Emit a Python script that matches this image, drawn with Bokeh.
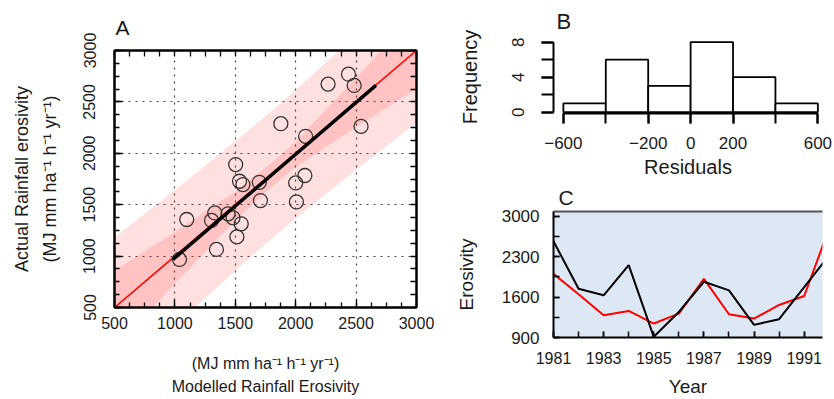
import numpy as np
from bokeh.plotting import figure
from bokeh.layouts import row, column
from bokeh.models import LinearAxis, FixedTicker, Range1d, Title
from bokeh.embed import file_html
from bokeh.resources import INLINE

FONT = "Liberation Sans"
TXT = "#1a1a1a"

# ---------------- Panel A data ----------------
modelled = [1038, 1098, 1344, 1330, 1303, 1440, 1481, 1549, 1513, 1503, 1535, 1563,
            1699, 1708, 1877, 2000, 2076, 2006, 2082, 2268, 2437, 2484, 2541]
actual = [968, 1356, 1065, 1420, 1347, 1411, 1372, 1314, 1187, 1890, 1728, 1696,
          1718, 1540, 2288, 1712, 1784, 1527, 2165, 2673, 2770, 2660, 2262]
fit_x = [984, 2664]
fit_y = [968, 2660]
one_to_one = [500, 3000]
band_x = [500, 1000, 1500, 1800, 2000, 2500, 3000]
conf_lower = [101, 734, 1348, 1675, 1866, 2255, 2628]
conf_upper = [861, 1234, 1628, 1905, 2116, 2735, 3368]
pred_lower = [-219, 324, 858, 1170, 1366, 1840, 2298]
pred_upper = [1181, 1644, 2118, 2410, 2616, 3150, 3698]
a_ticks = [500, 1000, 1500, 2000, 2500, 3000]
a_grid = [1000, 1500, 2000, 2500]

# ---------------- Panel B data ----------------
bin_edges = [-600, -400, -200, 0, 200, 400, 600]
frequency = [1, 6, 3, 8, 4, 1]
resid_labels = [-600, -200, 0, 200, 600]
freq_labels = [0, 4, 8]
freq_ticks = [0, 2, 4, 6, 8]

# ---------------- Panel C data ----------------
years = [1981, 1982, 1983, 1984, 1985, 1986, 1987, 1988, 1989, 1990, 1991, 1992]
modelled_series = [2005, 1649, 1287, 1361, 1142, 1314, 1918, 1304, 1228, 1464, 1620, 2800]
actual_series = [2569, 1746, 1632, 2155, 912, 1343, 1867, 1718, 1119, 1217, 1775, 2330]
c_yticks = [900, 1600, 2300, 3000]
c_yminor = [900, 1250, 1600, 1950, 2300, 2650, 3000]

SUP = "(MJ mm ha\u207b\u00b9 h\u207b\u00b9 yr\u207b\u00b9)"


def style_axis(ax, size, title_size=None):
    ax.major_label_text_font = FONT
    ax.major_label_text_font_size = size
    ax.major_label_text_color = TXT
    ax.axis_label_text_font = FONT
    ax.axis_label_text_font_style = "normal"
    ax.axis_label_text_color = TXT
    if title_size:
        ax.axis_label_text_font_size = title_size


def add_title(p, text, size, offset, standoff):
    p.add_layout(Title(text=text, align="left", offset=offset, standoff=standoff,
                       text_font=FONT, text_font_size=size, text_font_style="normal",
                       text_color=TXT), "above")


# ================= Panel A =================
pA = figure(width=450, height=399, output_backend="svg", toolbar_location=None,
            x_range=Range1d(500, 3000), y_range=Range1d(500, 3000),
            min_border_left=114, min_border_right=34, min_border_top=50, min_border_bottom=92)
pA.outline_line_color = "black"
pA.outline_line_width = 2

pA.varea(x=band_x, y1=pred_lower, y2=pred_upper, fill_color="red", fill_alpha=0.12)
pA.varea(x=band_x, y1=conf_lower, y2=conf_upper, fill_color="red", fill_alpha=0.13)
pA.line(one_to_one, one_to_one, line_color="red", line_width=1.6)
pA.scatter(modelled, actual, marker="circle", size=14, fill_color=None,
           line_color="#333333", line_width=1.3)
pA.line(fit_x, fit_y, line_color="black", line_width=3.5)

minor_a = list(np.arange(500, 3001, 125))
for ax in (pA.xaxis[0], pA.yaxis[0]):
    ax.ticker = FixedTicker(ticks=a_ticks, minor_ticks=minor_a)
    ax.major_tick_in = 8
    ax.major_tick_out = 0
    ax.minor_tick_in = 5
    ax.minor_tick_out = 0
    ax.major_tick_line_color = "black"
    ax.minor_tick_line_color = "black"
    ax.major_tick_line_width = 1.3
    ax.minor_tick_line_width = 1.3
    ax.axis_line_color = "black"
    ax.axis_line_width = 2
style_axis(pA.xaxis[0], "16px", "16px")
style_axis(pA.yaxis[0], "16px", "18px")
pA.xaxis.major_label_standoff = 9
pA.yaxis.major_label_standoff = 19
pA.yaxis.major_label_orientation = "vertical"
pA.xaxis.axis_label = SUP + "\nModelled Rainfall Erosivity"
pA.xaxis.axis_label_text_line_height = 1.375
pA.xaxis.axis_label_standoff = 23
pA.yaxis.axis_label = "Actual Rainfall erosivity\n" + SUP
pA.yaxis.axis_label_text_line_height = 1.39
pA.yaxis.axis_label_standoff = 21

for loc in ("above", "right"):
    ax = LinearAxis(ticker=FixedTicker(ticks=[], minor_ticks=minor_a),
                    minor_tick_in=6, minor_tick_out=0, minor_tick_line_width=1.3,
                    minor_tick_line_color="black", axis_line_width=2)
    pA.add_layout(ax, loc)

pA.xgrid.ticker = FixedTicker(ticks=a_grid)
pA.ygrid.ticker = FixedTicker(ticks=a_grid)
pA.grid.grid_line_color = "#444444"
pA.grid.grid_line_dash = "2 5"
pA.grid.grid_line_width = 1.2
add_title(pA, "A", "21px", 1, 24)

# ================= Panel B =================
pB = figure(width=384, height=180, output_backend="svg", toolbar_location=None,
            x_range=Range1d(-646.6, 621.9), y_range=Range1d(-0.15, 8.19),
            min_border_left=100, min_border_right=12, min_border_top=40, min_border_bottom=67)
pB.outline_line_color = None
pB.grid.visible = False
pB.quad(left=bin_edges[:-1], right=bin_edges[1:], bottom=0, top=frequency,
        fill_color="white", line_color="black", line_width=1.8)

xb = pB.xaxis[0]
xb.bounds = (bin_edges[0], bin_edges[-1])
xb.ticker = FixedTicker(ticks=resid_labels, minor_ticks=bin_edges)
xb.major_tick_in = 0
xb.major_tick_out = 10
xb.minor_tick_in = 0
xb.minor_tick_out = 10
xb.major_label_standoff = 13
xb.axis_label = "Residuals"
xb.axis_label_standoff = 4
yb = pB.yaxis[0]
yb.bounds = (0, 8)
yb.ticker = FixedTicker(ticks=freq_labels, minor_ticks=freq_ticks)
yb.major_tick_in = 0
yb.major_tick_out = 12
yb.minor_tick_in = 0
yb.minor_tick_out = 12
yb.major_label_orientation = "vertical"
yb.major_label_standoff = 17
yb.axis_label = "Frequency"
yb.axis_label_standoff = 29
for ax in (xb, yb):
    ax.axis_line_width = 2
    ax.major_tick_line_width = 2
    ax.minor_tick_line_width = 2
    ax.axis_line_color = "black"
    ax.major_tick_line_color = "black"
    ax.minor_tick_line_color = "black"
    style_axis(ax, "17px", "20px")
add_title(pB, "B", "22px", 3, 13)

# ================= Panel C =================
pC = figure(width=384, height=219, output_backend="svg", toolbar_location=None,
            x_range=Range1d(1981, 1991.73), y_range=Range1d(900, 3086),
            min_border_left=103, min_border_right=0, min_border_top=30, min_border_bottom=62)
pC.background_fill_color = "#dde8f4"
pC.outline_line_color = None
pC.grid.visible = False
pC.line(years, modelled_series, line_color="red", line_width=2)
pC.line(years, actual_series, line_color="black", line_width=2)

xc = pC.xaxis[0]
xc.ticker = FixedTicker(ticks=years[::2], minor_ticks=years)
xc.major_label_standoff = 14
xc.axis_label = "Year"
xc.axis_label_standoff = 9
yc = pC.yaxis[0]
yc.ticker = FixedTicker(ticks=c_yticks, minor_ticks=c_yminor)
yc.major_label_standoff = 14
yc.axis_label = "Erosivity"
yc.axis_label_standoff = 22
for ax in (xc, yc):
    ax.major_tick_in = 6
    ax.major_tick_out = 0
    ax.minor_tick_in = 6
    ax.minor_tick_out = 0
    ax.axis_line_color = "black"
    ax.axis_line_width = 2
    ax.major_tick_line_color = "black"
    ax.minor_tick_line_color = "black"
    ax.major_tick_line_width = 1.5
    ax.minor_tick_line_width = 1.5
style_axis(xc, "16px", "19px")
style_axis(yc, "17px", "19px")
top_c = LinearAxis(ticker=FixedTicker(ticks=[]), axis_line_color="#555555", axis_line_width=2,
                   major_tick_line_color=None, minor_tick_line_color=None)
pC.add_layout(top_c, "above")
add_title(pC, "C", "21px", 5, 6)

layout = row(pA, column(pB, pC, spacing=0), spacing=0)
open("out.html", "w").write(file_html(layout, INLINE))
